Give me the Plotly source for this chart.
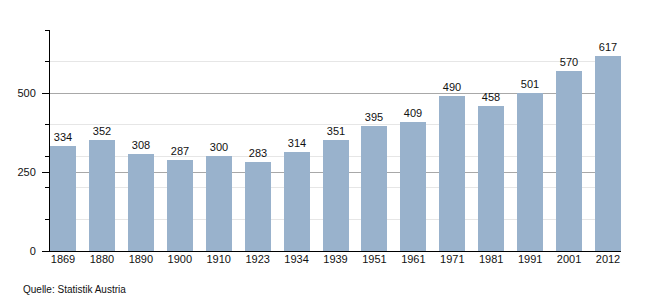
import plotly.graph_objects as go

years = ["1869", "1880", "1890", "1900", "1910", "1923", "1934", "1939",
         "1951", "1961", "1971", "1981", "1991", "2001", "2012"]
values = [334, 352, 308, 287, 300, 283, 314, 351, 395, 409, 490, 458, 501, 570, 617]
y_ticks = [0, 250, 500]
source = "Quelle: Statistik Austria"

FONT = "Liberation Sans, Arial, sans-serif"

fig = go.Figure(go.Bar(
    x=list(range(len(years))), y=values,
    marker=dict(color="#99b2cc", line=dict(width=0)),
    width=0.668,
    text=[str(v) for v in values], textposition="outside",
    textfont=dict(family=FONT, size=11, color="#111"),
    cliponaxis=False,
))

fig.update_layout(
    width=650, height=300,
    margin=dict(l=50, r=29, t=30, b=49),
    plot_bgcolor="white", paper_bgcolor="white",
    showlegend=False,
    font=dict(family=FONT, size=11, color="#111"),
    bargap=0,
    xaxis=dict(
        range=[-0.334, 14.334],
        tickmode="array", tickvals=list(range(len(years))), ticktext=years,
        showline=True, linecolor="#000", linewidth=1,
        ticks="", showgrid=False, zeroline=False,
        ticklabelstandoff=-2,
        tickfont=dict(size=11),
    ),
    yaxis=dict(
        range=[0, 700],
        tickmode="array", tickvals=y_ticks,
        showline=True, linecolor="#000", linewidth=1,
        ticks="outside", ticklen=7, tickcolor="#000",
        ticklabelstandoff=4,
        showgrid=True, gridcolor="#a8a8a8", gridwidth=1,
        zeroline=False,
        minor=dict(dtick=100, tick0=0, showgrid=True, gridcolor="#e6e6e6",
                   ticks="outside", ticklen=4, tickcolor="#000"),
        tickfont=dict(size=11),
    ),
    annotations=[dict(
        text=source, xref="paper", yref="paper", x=-29/571, y=-38/221,
        showarrow=False, xanchor="left", yanchor="middle",
        font=dict(size=10, color="#111"),
    )],
)

fig.write_html("out.html")
